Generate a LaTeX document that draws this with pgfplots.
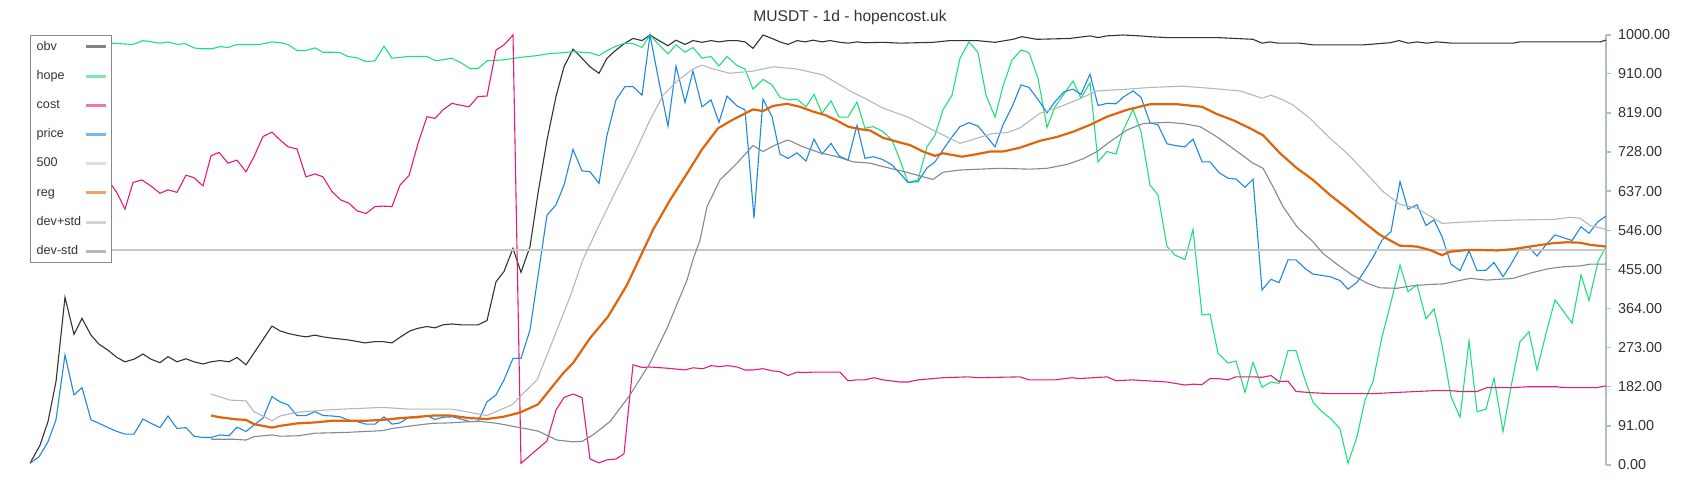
\documentclass[border=0pt]{standalone}
\usepackage{fontspec}
\setmainfont{Liberation Sans}
\usepackage{pgfplots}
\pgfplotsset{compat=1.18}

\definecolor{obvc}{HTML}{333333}
\definecolor{hopec}{HTML}{1FE07A}
\definecolor{costc}{HTML}{E8197D}
\definecolor{pricec}{HTML}{1E88E5}
\definecolor{fivec}{HTML}{C8C8C8}
\definecolor{regc}{HTML}{E0650A}
\definecolor{devpc}{HTML}{B4B8BC}
\definecolor{devmc}{HTML}{7D8B95}
\definecolor{axisgray}{HTML}{B0BEC5}
\definecolor{labelgray}{HTML}{333333}
\definecolor{legendgray}{HTML}{888888}

\begin{document}
\begin{tikzpicture}
\begin{axis}[
    name=ax,
    scale only axis,
    width=788pt, height=215pt,
    xmin=30, xmax=1606, ymin=0, ymax=1000,
    axis x line=none,
    axis y line*=right,
    y axis line style={draw=axisgray, line width=0.7pt},
    ytick={0,91,182,273,364,455,546,637,728,819,910,1000},
    yticklabels={0.00,91.00,182.00,273.00,364.00,455.00,546.00,637.00,728.00,819.00,910.00,1000.00},
    tick style={draw=axisgray, line width=0.7pt},
    tick align=outside,
    major tick length=2.5pt,
    yticklabel style={font=\fontsize{7.2}{8}\selectfont, text=labelgray, anchor=west},
    clip=false,
    every axis plot/.append style={line width=0.55pt},
    legend style={at={(0,1)}, anchor=north west, draw=legendgray, line width=0.7pt,
        fill=white, font=\fontsize{6.3}{7}\selectfont, text=labelgray,
        inner xsep=2pt, inner ysep=1.6pt, row sep=6.7pt,
        nodes={text width=23pt, text height=4.6pt, text depth=1.3pt, inner sep=1pt}},
    legend cell align=left,
    legend plot pos=right,
    legend image code/.code={\draw[#1, line width=1.5pt, opacity=0.6] (0pt,0pt) -- (10pt,0pt);},
]

% obv
\addplot[obvc] coordinates {
(30,4) (40,46) (48,101) (56,194) (65,390) (74,304) (82,341) (91,302) (99,281) (108,267)
(117,250) (125,240) (134,246) (143,258) (151,246) (160,238) (168,252) (177,240) (186,247) (194,240)
(203,235) (211,240) (220,243) (229,240) (237,250) (246,233) (272,323) (280,312) (288,306) (298,301)
(306,298) (315,302) (323,298) (332,295) (348,291) (365,284) (375,287) (383,287) (392,284) (400,297)
(410,312) (418,318) (427,322) (435,319) (443,326) (452,328) (461,326) (478,326) (487,336) (496,426)
(504,450) (513,504) (521,448) (530,508) (538,632) (547,756) (556,857) (564,926) (573,967) (582,946)
(590,926) (599,911) (607,946) (616,965) (625,981) (633,992) (642,987) (650,1000) (659,987) (668,975)
(676,988) (685,978) (693,987) (702,983) (711,987) (719,984) (728,987) (737,987) (745,984) (753,969)
(763,1000) (772,992) (780,984) (788,978) (797,987) (805,984) (813,988) (822,984) (830,987) (840,983)
(848,981) (857,984) (865,982) (883,983) (900,981) (933,983) (950,987) (977,987) (995,983) (1013,990)
(1022,996) (1037,990) (1070,992) (1090,998) (1098,994) (1107,998) (1123,1000) (1140,998) (1150,996) (1167,994)
(1217,994) (1253,990) (1262,981) (1270,984) (1278,981) (1300,981) (1313,977) (1363,977) (1390,982) (1399,987)
(1408,981) (1417,984) (1427,981) (1437,984) (1452,981) (1513,981) (1520,984) (1600,984) (1606,988)
};
\addlegendentry{obv}

% hope
\addplot[hopec] coordinates {
(30,978) (60,980) (90,978) (111,981) (133,978) (143,987) (152,984) (160,981) (168,984) (177,978)
(185,980) (194,970) (202,968) (212,968) (220,973) (228,971) (237,978) (260,978) (272,984) (280,982)
(288,978) (297,964) (306,964) (315,970) (323,960) (332,960) (340,959) (348,950) (357,947) (366,938)
(375,940) (384,974) (392,946) (408,950) (427,950) (436,940) (452,946) (462,934) (470,922) (478,922)
(487,940) (503,942) (520,948) (537,952) (547,956) (563,959) (572,961) (590,959) (599,952) (607,964)
(616,974) (625,981) (633,980) (642,971) (650,1000) (659,977) (668,956) (676,977) (685,960) (693,971)
(702,946) (711,950) (719,928) (727,950) (737,929) (745,921) (753,874) (763,897) (772,884) (780,855)
(788,849) (797,851) (806,833) (814,862) (822,818) (831,847) (839,809) (848,809) (857,844) (865,783)
(873,787) (882,777) (892,756) (900,709) (908,657) (918,663) (927,740) (935,767) (943,826) (952,860)
(960,946) (969,984) (978,959) (986,860) (995,809) (1003,881) (1012,942) (1021,965) (1029,959) (1038,899)
(1047,785) (1055,833) (1064,863) (1073,893) (1081,853) (1090,889) (1098,705) (1107,729) (1116,723) (1123,777)
(1133,827) (1141,775) (1150,651) (1158,628) (1167,508) (1175,488) (1185,478) (1193,548) (1202,349) (1210,351)
(1218,260) (1228,237) (1236,242) (1245,169) (1253,239) (1262,181) (1271,193) (1279,190) (1288,266) (1296,266)
(1305,198) (1313,146) (1322,124) (1331,107) (1340,84) (1348,4) (1357,66) (1365,151) (1373,194) (1382,298)
(1392,388) (1400,465) (1408,403) (1417,419) (1426,340) (1434,363) (1442,279) (1451,159) (1460,111) (1469,288)
(1477,124) (1486,130) (1494,202) (1503,78) (1511,182) (1520,287) (1529,310) (1537,221) (1546,306) (1555,384)
(1563,359) (1572,330) (1581,442) (1589,382) (1598,473) (1606,508)
};
\addlegendentry{hope}

% cost
\addplot[costc] coordinates {
(30,650) (60,655) (90,640) (102,660) (111,653) (117,633) (125,595) (133,657) (142,663) (152,647)
(160,632) (168,640) (177,634) (186,674) (194,668) (203,649) (211,719) (219,727) (228,702) (237,709)
(246,682) (254,717) (263,764) (272,774) (280,756) (288,740) (297,735) (306,670) (315,677) (323,670)
(332,636) (341,616) (349,609) (357,591) (366,585) (375,601) (383,602) (392,601) (400,651) (409,673)
(418,748) (427,810) (435,806) (443,826) (452,841) (460,837) (469,833) (478,857) (487,858) (496,965)
(504,977) (513,1000) (521,4) (547,56) (556,128) (564,157) (573,165) (582,157) (590,14) (599,5)
(607,12) (616,14) (624,26) (633,233) (642,227) (650,228) (668,225) (685,221) (693,226) (703,224)
(711,231) (719,229) (728,231) (737,228) (745,221) (753,221) (763,224) (772,219) (780,217) (788,208)
(797,216) (805,215) (813,216) (840,216) (848,196) (857,198) (865,198) (874,203) (883,198) (900,193)
(908,193) (918,198) (943,203) (968,205) (978,203) (1020,205) (1029,198) (1055,198) (1072,203) (1080,201)
(1107,205) (1116,196) (1132,198) (1167,193) (1185,186) (1193,188) (1202,187) (1210,201) (1218,201) (1228,198)
(1236,205) (1253,205) (1262,204) (1271,208) (1279,194) (1288,195) (1296,171) (1313,168) (1330,166) (1373,166)
(1390,168) (1417,171) (1435,173) (1450,173) (1460,171) (1477,171) (1487,180) (1513,180) (1528,182) (1557,182)
(1563,180) (1597,180) (1606,184)
};
\addlegendentry{cost}

% price
\addplot[pricec] coordinates {
(30,4) (39,19) (48,54) (56,105) (65,256) (74,163) (82,180) (91,105) (99,97) (108,87)
(117,78) (125,72) (134,72) (143,107) (151,97) (160,87) (168,114) (177,85) (186,87) (194,67)
(203,64) (211,64) (220,70) (229,68) (237,88) (246,78) (254,93) (263,109) (272,159) (280,147)
(288,140) (297,115) (306,115) (315,124) (323,115) (332,114) (340,112) (348,105) (357,101) (366,95)
(375,95) (384,112) (392,95) (400,98) (408,110) (418,110) (427,115) (435,106) (443,111) (453,112)
(470,101) (478,101) (487,147) (496,163) (504,198) (513,248) (521,248) (530,314) (547,581) (556,605)
(564,651) (573,734) (582,684) (590,682) (599,655) (607,767) (616,849) (625,880) (633,880) (642,860)
(650,1000) (659,891) (668,788) (676,928) (685,843) (693,916) (702,833) (711,849) (719,797) (727,858)
(737,835) (745,826) (754,574) (763,851) (772,810) (780,723) (788,713) (797,726) (806,707) (814,758)
(822,723) (831,748) (839,719) (848,709) (857,790) (865,713) (873,717) (882,711) (892,698) (900,678)
(908,657) (918,659) (927,691) (935,705) (943,733) (952,763) (960,787) (969,796) (978,788) (987,763)
(995,740) (1003,791) (1012,833) (1021,884) (1029,878) (1038,850) (1047,819) (1055,845) (1064,868) (1073,874)
(1081,862) (1090,909) (1098,836) (1107,841) (1116,840) (1123,855) (1133,870) (1141,855) (1150,796) (1158,791)
(1167,747) (1175,743) (1185,740) (1193,758) (1202,705) (1210,705) (1219,680) (1228,667) (1236,665) (1245,646)
(1253,665) (1262,407) (1271,432) (1279,424) (1288,477) (1296,477) (1305,457) (1313,444) (1330,438) (1340,429)
(1348,409) (1357,425) (1365,453) (1373,483) (1382,523) (1391,543) (1400,659) (1408,595) (1417,605) (1426,557)
(1434,570) (1442,531) (1451,467) (1460,452) (1469,498) (1477,452) (1486,453) (1494,471) (1503,438) (1511,467)
(1520,504) (1528,509) (1537,486) (1546,512) (1555,535) (1563,529) (1572,522) (1581,554) (1589,539) (1598,566)
(1606,579)
};
\addlegendentry{price}

% 500
\addplot[fivec, line width=0.7pt] coordinates {(30,500) (1606,500)};
\addlegendentry{500}

% reg
\addplot[regc, line width=1.1pt] coordinates {
(211,115) (220,111) (237,106) (246,105) (254,95) (272,87) (280,91) (298,97) (315,99) (333,103)
(367,103) (383,105) (400,109) (418,112) (433,115) (450,115) (470,109) (487,107) (503,112) (520,122)
(538,141) (563,213) (573,237) (590,295) (608,345) (627,419) (639,478) (653,547) (670,616) (687,678)
(702,734) (718,783) (732,802) (753,827) (763,823) (773,835) (787,840) (800,833) (813,822) (825,814)
(837,801) (848,787) (860,781) (870,778) (883,761) (900,750) (910,744) (923,729) (935,719) (943,725)
(962,717) (977,723) (990,729) (1003,729) (1020,738) (1040,754) (1057,763) (1073,775) (1090,791) (1107,810)
(1127,826) (1150,839) (1177,839) (1202,833) (1217,816) (1233,802) (1250,783) (1263,767) (1280,725) (1297,690)
(1313,663) (1330,628) (1347,597) (1363,566) (1380,535) (1400,510) (1417,508) (1430,500) (1442,488) (1450,496)
(1467,500) (1480,500) (1497,499) (1513,502) (1533,509) (1553,516) (1567,518) (1580,517) (1590,512) (1606,508)
};
\addlegendentry{reg}

% dev+std
\addplot[devpc] coordinates {
(211,165) (230,151) (246,149) (254,124) (272,103) (280,114) (298,123) (315,126) (333,129) (383,134)
(408,130) (452,130) (487,115) (512,140) (520,159) (537,198) (553,291) (570,391) (583,478) (597,547)
(613,624) (633,717) (650,802) (663,860) (677,893) (693,921) (702,930) (713,921) (730,911) (753,916)
(773,926) (797,921) (823,907) (840,884) (850,870) (867,850) (883,830) (908,809) (933,779) (960,748)
(977,760) (993,771) (1007,773) (1020,784) (1040,818) (1060,833) (1083,855) (1097,870) (1127,874) (1150,878)
(1183,881) (1210,876) (1240,870) (1262,853) (1271,860) (1283,849) (1293,837) (1310,806) (1330,760) (1347,725)
(1363,686) (1383,636) (1400,606) (1417,597) (1442,562) (1480,567) (1520,570) (1553,571) (1570,576) (1580,574)
(1590,557) (1606,548)
};
\addlegendentry{dev+std}

% dev-std
\addplot[devmc] coordinates {
(211,60) (233,60) (246,58) (254,66) (272,70) (280,67) (298,68) (315,74) (333,75) (348,76)
(365,78) (383,80) (392,85) (418,93) (433,97) (450,98) (478,102) (497,97) (520,87) (538,79)
(557,58) (573,54) (582,55) (593,70) (610,101) (630,163) (650,237) (667,318) (687,430) (693,478)
(700,523) (707,601) (720,663) (737,702) (753,743) (763,729) (775,744) (788,756) (803,740) (820,726)
(837,717) (853,705) (870,702) (883,694) (908,680) (933,664) (943,681) (960,686) (1000,690) (1030,688)
(1047,690) (1067,699) (1083,712) (1097,729) (1110,752) (1127,779) (1143,794) (1167,797) (1183,794) (1200,787)
(1217,763) (1233,736) (1253,702) (1263,690) (1273,647) (1283,601) (1297,554) (1313,519) (1323,492) (1338,465)
(1352,442) (1367,423) (1380,412) (1397,411) (1413,417) (1430,420) (1443,421) (1453,426) (1470,434) (1487,430)
(1513,434) (1530,446) (1547,456) (1563,461) (1580,463) (1590,467) (1606,467)
};
\addlegendentry{dev-std}

\node[font=\fontsize{7.8}{9}\selectfont, text=labelgray] at (axis cs:850,1040) {MUSDT - 1d - hopencost.uk};
\end{axis}
\pgfresetboundingbox
\path ([xshift=-15pt,yshift=-17.5pt]ax.south west) rectangle ([xshift=47pt,yshift=17.5pt]ax.north east);
\end{tikzpicture}
\end{document}
